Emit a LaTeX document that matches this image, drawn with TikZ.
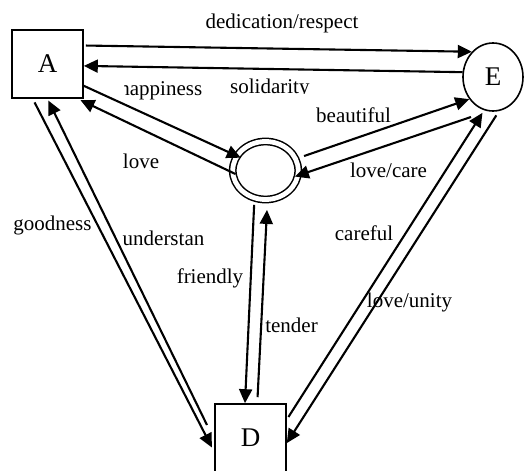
\documentclass[tikz,border=0pt]{standalone}
\usepackage{fontspec}
\setmainfont{Liberation Serif}
\usetikzlibrary{arrows.meta,shapes.geometric}

\begin{document}
\begin{tikzpicture}[x=1pt,y=-1pt]
	\tikzstyle{box}=[draw, line width=1.6pt, minimum width=71pt, minimum height=68pt, inner sep=0pt, font=\fontsize{27pt}{32pt}\selectfont]
	\tikzstyle{oval}=[ellipse, draw, line width=1.6pt, minimum width=60pt, minimum height=68pt, inner sep=0pt, font=\fontsize{27pt}{32pt}\selectfont]
	\tikzstyle{ring}=[ellipse, draw, double, double distance=4.8pt, line width=1.5pt, minimum width=65.5pt, minimum height=58pt, inner sep=0pt, outer sep=0pt]
	\tikzstyle{lbl}=[font=\fontsize{21pt}{25pt}\selectfont, inner sep=0pt, anchor=base]
	\tikzstyle{arr}=[line width=2.1pt, -{Triangle[length=14pt,width=13pt]}]
	
	\useasboundingbox (0,0) rectangle (528,471);
	
	\node[box] (A) at (47.5,64) {A};
	\node[oval] (E) at (493,77) {E};
	\node[ring] (C) at (265.5,170.5) {};
	\node[box] (D) at (250.5,438) {D};
	
	\coordinate (Ecare) at (471,117);
	\coordinate (Dund) at (207,425);
	
	% A and E
	\draw[arr, shorten <=2pt] (A.27) -- (E.130);
	\draw[arr] (E.171) -- (A.-3);
	
	% A and the ring
	\draw[arr, shorten >=-4pt] (A.-31) -- (C.153);
	\draw[arr, shorten <=-3pt, shorten >=3pt] (C.184) -- (A.-49);
	
	% ring and E
	\draw[arr, shorten <=9pt] (C.21) -- (E.223);
	\draw[arr, shorten >=-3pt] (Ecare) -- (C.-9);
	
	% A and D
	\draw[arr, shorten <=4pt, shorten >=5pt] (A.247) -- (D.201);
	\draw[arr, shorten >=2pt] (Dund) -- (A.south);
	
	% ring and D
	\draw[arr, shorten <=7pt] (C.248) -- (D.99);
	\draw[arr, shorten <=6pt, shorten >=10.5pt] (D.79) -- (C.274);
	
	% D and E
	\draw[arr, shorten <=3pt, shorten >=3pt] (D.27) -- (E.255);
	\draw[arr, shorten <=5pt] (E.280) -- (D.-8);
	
	\node[lbl] (ded) at (282,28) {dedication/respect};
	\begin{scope}
		\clip (220,60) rectangle (320,93.5);
		\node[lbl, anchor=base west] (sol) at (230,93) {solidarity};
	\end{scope}
	\begin{scope}
		\clip (124.5,60) rectangle (215,110);
		\node[lbl, anchor=base west] (hap) at (119.2,95) {happiness};
	\end{scope}
	\node[lbl] (lov) at (141,168) {love};
	\node[lbl] (bea) at (353.5,122) {beautiful};
	\node[lbl] (car) at (388.5,177) {love/care};
	\node[lbl] (goo) at (52.5,230) {goodness};
	\node[lbl] (und) at (163.5,245) {understan};
	\node[lbl] (fri) at (210,283) {friendly};
	\node[lbl] (ten) at (291.5,332) {tender};
	\node[lbl] (cfl) at (364,240) {careful};
	\node[lbl] (uni) at (409.5,307) {love/unity};
	
\end{tikzpicture}
\end{document}
